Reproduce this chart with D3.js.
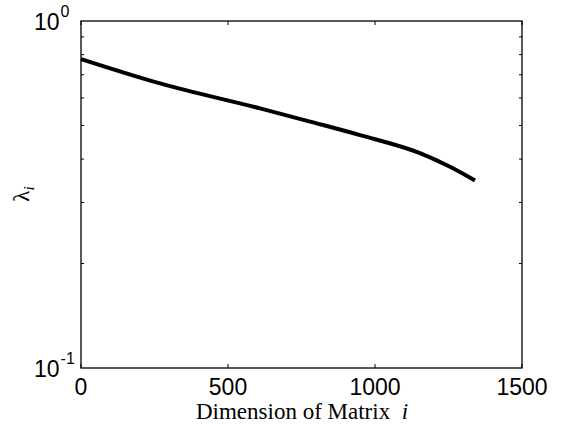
<!DOCTYPE html>
<html>
<head>
<meta charset="utf-8">
<script src="https://cdn.jsdelivr.net/npm/d3@7"></script>
<style>
  body { margin: 0; background: #fff; }
  .tick-label { font-family: "Liberation Sans", Arial, sans-serif; font-size: 23px; fill: #000; }
  .axis-title { font-family: "Liberation Serif", "Times New Roman", serif; font-size: 23px; fill: #000; }
</style>
</head>
<body>
<div id="chart"></div>
<script>
// eigenvalue decay
var dims = [0, 269, 609, 779, 949, 1153, 1255, 1340];
var lambdas = [0.777, 0.661, 0.560, 0.513, 0.469, 0.416, 0.380, 0.347];
var xTicks = [0, 500, 1000, 1500];
var yMinorTicks = [0.2, 0.3, 0.4, 0.5, 0.6, 0.7, 0.8, 0.9];

var width = 565, height = 426,
    margin = {top: 21, right: 43, bottom: 58, left: 81};
var w = width - margin.left - margin.right,
    h = height - margin.top - margin.bottom;

var X = d3.scaleLinear().domain([0, 1500]).range([0, w]),
    Y = d3.scaleLog().domain([0.1, 1]).range([h, 0]);

var svg = d3.select('#chart').append('svg')
    .attr('width', width)
    .attr('height', height);
var g = svg.append('g')
    .attr('transform', 'translate(' + margin.left + ',' + margin.top + ')');

// box
g.append('rect')
    .attr('x', 0).attr('y', 0)
    .attr('width', w).attr('height', h)
    .style('fill', 'none').style('stroke', '#000').style('stroke-width', 1.3);

// x ticks, inward on bottom and top
xTicks.forEach(function(t) {
    g.append('line').attr('x1', X(t)).attr('x2', X(t)).attr('y1', h).attr('y2', h - 4)
        .style('stroke', '#000');
    g.append('line').attr('x1', X(t)).attr('x2', X(t)).attr('y1', 0).attr('y2', 4)
        .style('stroke', '#000');
    g.append('text').attr('class', 'tick-label')
        .attr('x', X(t)).attr('y', h + 27)
        .attr('text-anchor', 'middle')
        .text(t);
});

// y minor ticks, inward on left and right
yMinorTicks.forEach(function(t) {
    g.append('line').attr('x1', 0).attr('x2', 3).attr('y1', Y(t)).attr('y2', Y(t))
        .style('stroke', '#000');
    g.append('line').attr('x1', w).attr('x2', w - 3).attr('y1', Y(t)).attr('y2', Y(t))
        .style('stroke', '#000');
});

// y decade labels 10^0 and 10^-1
[[1, '0'], [0.1, '-1']].forEach(function(d) {
    var t = g.append('text').attr('class', 'tick-label')
        .attr('x', -47).attr('y', Y(d[0]) + 9)
        .attr('text-anchor', 'start');
    t.append('tspan').text('10');
    t.append('tspan').attr('dy', -13).attr('dx', 1).style('font-size', '16px').text(d[1]);
});

// data line
var line = d3.line()
    .x(function(d, i) { return X(dims[i]); })
    .y(function(d, i) { return Y(lambdas[i]); })
    .curve(d3.curveMonotoneX);
g.append('path')
    .datum(dims)
    .attr('d', line)
    .style('fill', 'none').style('stroke', '#000')
    .style('stroke-width', 4).style('stroke-linejoin', 'round');

// axis titles
var xt = svg.append('text').attr('class', 'axis-title')
    .attr('x', 302).attr('y', 419)
    .attr('text-anchor', 'middle');
xt.append('tspan').text('Dimension of Matrix\u00a0\u00a0');
xt.append('tspan').style('font-style', 'italic').text('i');

var yt = svg.append('text').attr('class', 'axis-title')
    .attr('transform', 'translate(29,194) rotate(-90)')
    .attr('text-anchor', 'middle');
yt.append('tspan').text('\u03bb');
yt.append('tspan').attr('dy', 5).style('font-size', '15px').style('font-style', 'italic').text('i');
</script>
</body>
</html>
